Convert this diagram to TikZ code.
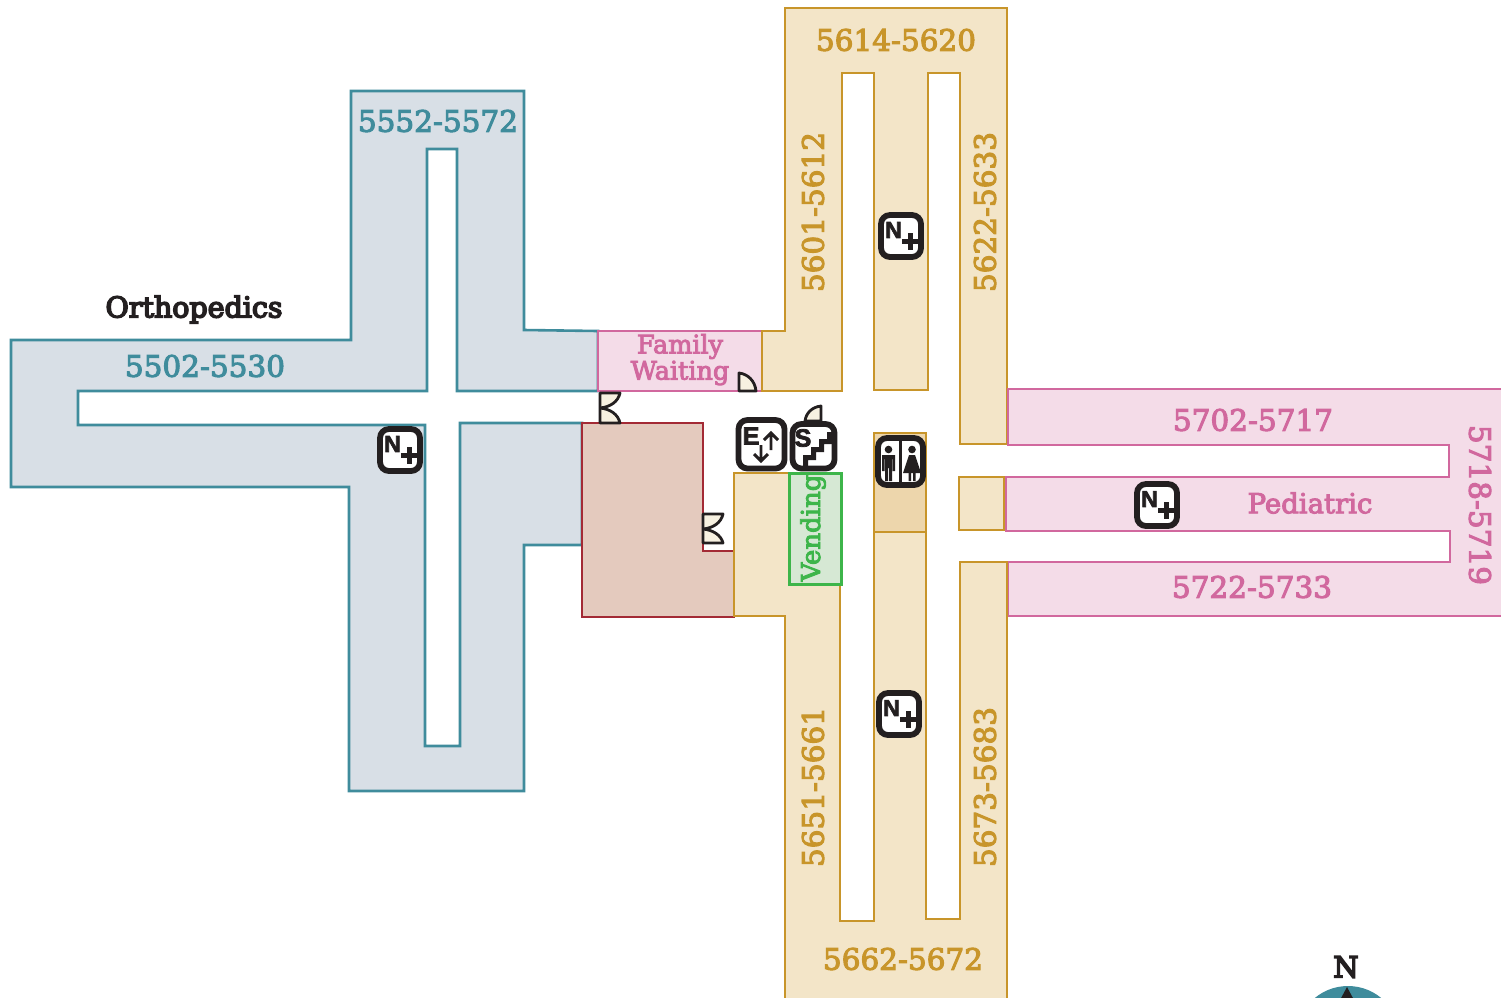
\documentclass[tikz,border=0pt]{standalone}
\usepackage{fontspec}
\setmainfont{DejaVu Serif}[FakeBold=3.5]
\newfontfamily\heavyserif{DejaVu Serif}[FakeBold=5.5]
\newfontfamily\iconsans{Liberation Sans}[FakeBold=0,BoldFeatures={FakeBold=3}]
\definecolor{teal}{HTML}{3F8C9C}
\definecolor{gold}{HTML}{C8952A}
\definecolor{rose}{HTML}{D1689E}
\definecolor{bluef}{HTML}{D8DFE6}
\definecolor{tanf}{HTML}{F3E5C8}
\definecolor{rosef}{HTML}{F4DCE8}
\definecolor{brownf}{HTML}{E4CABE}
\definecolor{brownl}{HTML}{A32A35}
\definecolor{greenl}{HTML}{3DB54A}
\definecolor{greenf}{HTML}{D6E8D4}
\definecolor{dtan}{HTML}{EDD6AC}
\definecolor{ink}{HTML}{231F20}
\definecolor{cream}{HTML}{F7F1E1}
\tikzset{
  x=1pt,y=-1pt,
  area/.style={line width=2.6pt,miter limit=4},
  bluearea/.style={area,draw=teal,fill=bluef},
  tanarea/.style={area,draw=gold,fill=tanf},
  rosearea/.style={area,draw=rose,fill=rosef},
  lbl/.style={inner sep=0pt,font=\fontsize{29.5}{30}\selectfont},
  tlbl/.style={lbl,text=teal},
  glbl/.style={lbl,text=gold},
  rlbl/.style={lbl,text=rose},
  iconbox/.style={draw=ink,fill=white,line width=5.8pt,rounded corners=9pt},
  doorline/.style={draw=ink,fill=cream,line width=2.8pt,line join=round},
  icontxt/.style={inner sep=0pt,text=ink,font=\iconsans\bfseries\fontsize{23}{23}\selectfont},
  iconline/.style={draw=ink,line width=2.9pt},
}
\newcommand{\nursebox}[3]{%
  \draw[iconbox] (#2-20,#3-21) rectangle (#2+20,#3+21);
  \node[icontxt] (#1) at (#2-7.5,#3-6) {N};
  \draw[draw=ink,line width=4.2pt] (#2+1,#3+5.5) -- (#2+18,#3+5.5) (#2+9.5,#3-3) -- (#2+9.5,#3+14);
}
\begin{document}
\begin{tikzpicture}
\clip (0,0) rectangle (1501,997);
\fill[white] (0,0) rectangle (1501,997);
% Orthopedics wing
\draw[bluearea] (351,91) -- (524,91) -- (524,330) -- (598,331) -- (598,391) -- (457,391) -- (457,149) -- (427,149) -- (427,391) -- (78,391) -- (78,425) -- (425,425) -- (425,746) -- (460,746) -- (460,423) -- (582,423) -- (582,545) -- (524,545) -- (524,791) -- (349,791) -- (349,487) -- (11,487) -- (11,340) -- (351,340) -- cycle;
% Family waiting
\draw[rosearea] (598,331) rectangle (762,391);
% Tan north
\draw[tanarea] (785,8) -- (1007,8) -- (1007,444) -- (960,444) -- (960,73) -- (928,73) -- (928,390) -- (874,390) -- (874,73) -- (842,73) -- (842,391) -- (762,391) -- (762,331) -- (785,331) -- cycle;
% Pediatric wing
\draw[rosearea] (1008,389) -- (1510,389) -- (1510,616) -- (1008,616) -- (1008,562) -- (1450,562) -- (1450,531) -- (1006,531) -- (1006,477) -- (1449,477) -- (1449,445) -- (1008,445) -- cycle;
\draw[tanarea] (959,477) rectangle (1004,530);
% Brown room
\draw[area,draw=brownl,fill=brownf] (582,423) -- (703,423) -- (703,551) -- (734,551) -- (734,617) -- (582,617) -- cycle;
% Tan south
\draw[tanarea] (734,473) -- (789,473) -- (789,584) -- (840,584) -- (840,921) -- (874,921) -- (874,532) -- (926,532) -- (926,919) -- (960,919) -- (960,562) -- (1007,562) -- (1007,1005) -- (785,1005) -- (785,616) -- (734,616) -- cycle;
\draw[area,draw=gold,fill=dtan] (874,433) rectangle (926,532);
\draw[area,line width=3pt,draw=greenl,fill=greenf] (789,473) rectangle (841,584);
% Doors
\draw[doorline] (600,393) -- (620,393) .. controls (618,402) and (610,407) .. (600,408) .. controls (610,409) and (618,414) .. (620,423) -- (600,423) -- cycle;
\draw[doorline] (703,514) -- (723,514) .. controls (721,523) and (713,528) .. (703,529) .. controls (713,530) and (721,535) .. (723,543) -- (703,543) -- cycle;
\draw[doorline] (739,373) .. controls (748,374) and (755,381) .. (756,391) -- (739,391) -- cycle;
\draw[doorline] (821,406) .. controls (812,407) and (806,413) .. (805,421) -- (821,421) -- cycle;
% Text labels
\node[lbl,text=ink,font=\heavyserif\fontsize{28.5}{30}\selectfont] (ortho) at (194,309.5) {Orthopedics};
\node[tlbl] (a5502) at (205,366) {5502-5530};
\node[tlbl] (a5552) at (438,121) {5552-5572};
\node[rlbl,font=\fontsize{25.5}{27}\selectfont] (fam) at (680,346.5) {Family};
\node[rlbl,font=\fontsize{25.5}{27}\selectfont] (wait) at (680,373) {Waiting};
\node[glbl] (a5614) at (896,40) {5614-5620};
\node[glbl,rotate=90] (a5601) at (813,212) {5601-5612};
\node[glbl,rotate=90] (a5622) at (985,212) {5622-5633};
\node[rlbl] (a5702) at (1253,420) {5702-5717};
\node[rlbl,font=\fontsize{27.5}{28}\selectfont] (ped) at (1310,503) {Pediatric};
\node[rlbl] (a5722) at (1252,587) {5722-5733};
\node[rlbl,rotate=-90] (a5718) at (1480,505) {5718-5719};
\node[lbl,text=greenl,rotate=90,font=\fontsize{26}{26}\selectfont] (vend) at (813,528) {Vending};
\node[glbl,rotate=90] (a5651) at (813,787) {5651-5661};
\node[glbl,rotate=90] (a5673) at (985,787) {5673-5683};
\node[glbl] (a5662) at (903,959) {5662-5672};
% Nurse icons
\nursebox{n1}{400}{450}
\nursebox{n2}{901}{236}
\nursebox{n3}{899}{714}
\nursebox{n4}{1157}{505}
% Elevator
\draw[iconbox] (738.5,420) rectangle (784.5,468.5);
\node[icontxt,font=\iconsans\bfseries\fontsize{25}{25}\selectfont] (eltr) at (751,436) {E};
\draw[iconline] (771,450) -- (771,434) (764,440) -- (771,433) -- (778,440);
\draw[iconline] (761,445) -- (761,460) (754,454) -- (761,461) -- (768,454);
% Stairs
\draw[iconbox] (792.5,424) rectangle (834.5,468.5);
\node[icontxt,font=\iconsans\bfseries\fontsize{25}{25}\selectfont] (stl) at (803,438) {S};
\fill[ink] (803,467) -- (803,455) -- (811,455) -- (811,447) -- (819,447) -- (819,439) -- (827,439) -- (827,432) -- (833,432) -- (833,436) -- (832,436) -- (832,444) -- (824,444) -- (824,452) -- (816,452) -- (816,460) -- (808,460) -- (808,467) -- cycle;
% Restroom
\draw[iconbox] (878,438) rectangle (923,485);
\fill[ink] (899,440) rectangle (902,482);
\fill[ink] (888.5,449.5) circle[radius=3.8];
\fill[ink] (882,455) rectangle (895,459) (882,455) rectangle (884.5,471) (892.5,455) rectangle (895,471) (885,455) rectangle (892,468) (885,468) rectangle (888,481) (889,468) rectangle (892,481);
\fill[ink] (912,449.5) circle[radius=3.8];
\fill[ink] (909,455) -- (915,455) -- (921,473) -- (903,473) -- cycle;
\fill[ink] (908.5,473) rectangle (911,481) (913,473) rectangle (915.5,481);
% Compass
\fill[teal] (1348,1038) circle[radius=52];
\fill[ink] (1347,987) -- (1354,1000) -- (1340,1000) -- cycle;
\node[lbl,text=ink,font=\heavyserif\fontsize{29}{29}\selectfont] (north) at (1346,967) {N};
\end{tikzpicture}
\end{document}
